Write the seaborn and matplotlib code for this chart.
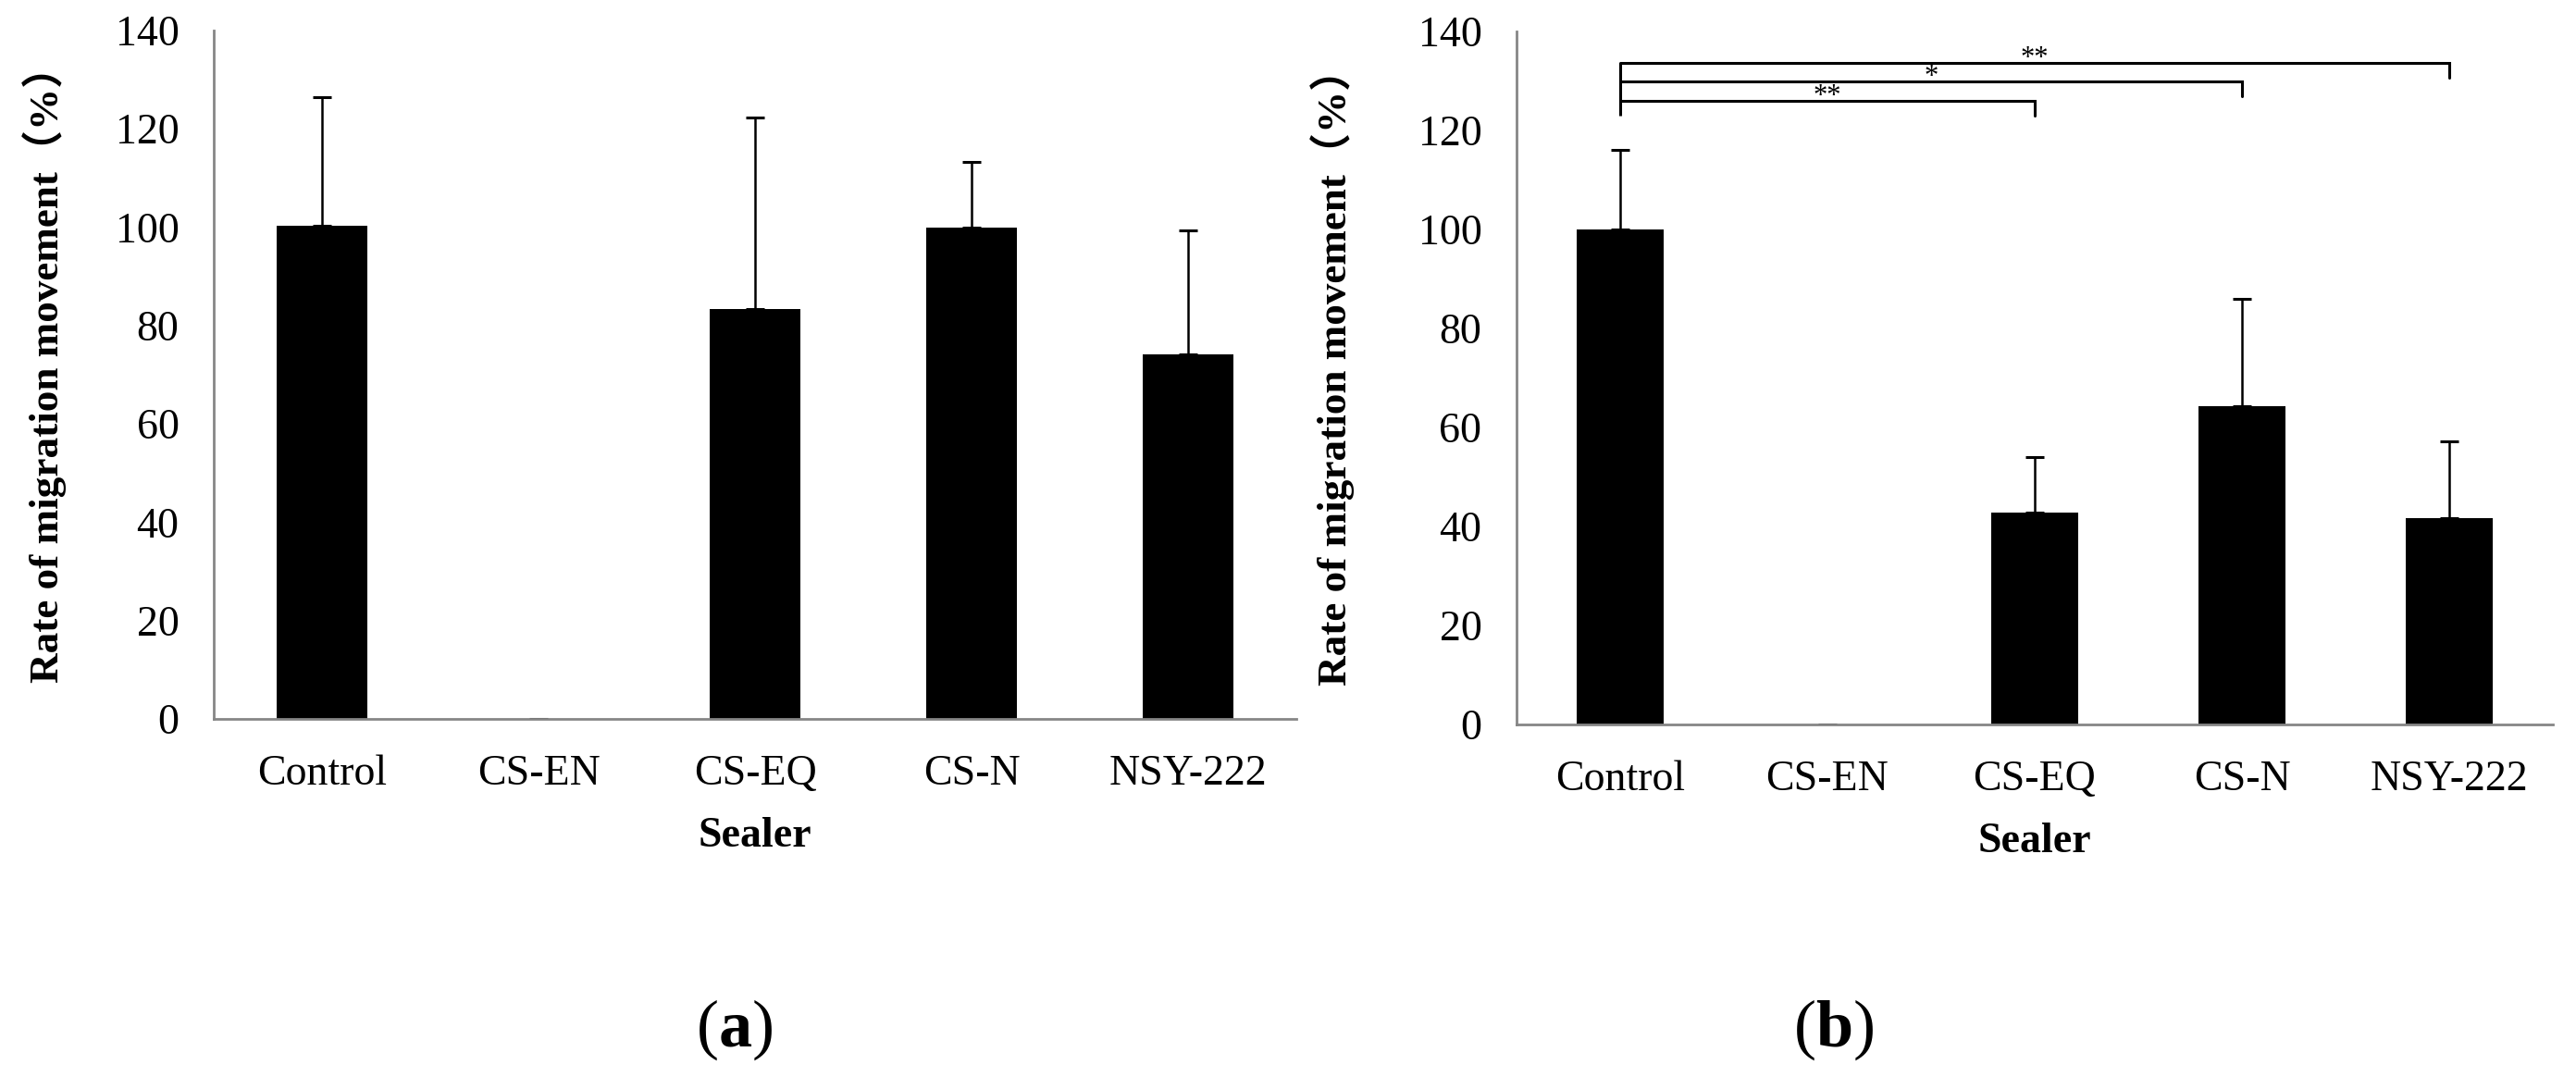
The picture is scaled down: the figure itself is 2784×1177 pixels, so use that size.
import matplotlib
matplotlib.use("Agg")
import matplotlib.pyplot as plt
import numpy as np
import pandas as pd
import seaborn as sns
from matplotlib.ticker import FixedLocator, MultipleLocator

sealers = ["Control", "CS-EN", "CS-EQ", "CS-N", "NSY-222"]

# panel (a)
rate_a = [100.2, 0.0, 83.3, 100.0, 74.2]
sd_a = [26.2, np.nan, 39.0, 13.3, 25.1]

# panel (b)
rate_b = [100.0, 0.0, 42.8, 64.2, 41.7]
sd_b = [16.0, np.nan, 11.2, 21.8, 15.4]

# significance brackets in panel (b): target group, bracket height, label
sig_targets = ["NSY-222", "CS-N", "CS-EQ"]
sig_heights = [133.7, 129.9, 126.0]
sig_labels = ["**", "*", "**"]

YLABEL = "Rate of migration movement\uff08%\uff09"
GREY = "#868686"


def draw_panel(ax, values, errs):
    df = pd.DataFrame({"sealer": sealers, "rate": values})
    sns.barplot(data=df, x="sealer", y="rate", order=sealers, color="black",
                errorbar=None, width=0.42, linewidth=0, saturation=1, ax=ax)
    err = np.asarray(errs, dtype=float)
    ax.errorbar(np.arange(len(sealers)), values, yerr=[np.zeros_like(err), err],
                fmt="none", ecolor="black", elinewidth=1.8, capsize=7, capthick=2.2)
    ax.set_xlim(-0.5, len(sealers) - 0.5)
    ax.set_ylim(0, 140)
    ax.yaxis.set_major_locator(MultipleLocator(20))
    ax.xaxis.set_minor_locator(FixedLocator(np.arange(len(sealers)) + 0.5))
    for side in ["top", "right"]:
        ax.spines[side].set_visible(False)
    for side in ["left", "bottom"]:
        ax.spines[side].set_color(GREY)
        ax.spines[side].set_linewidth(2.0)
    ax.tick_params(axis="y", direction="in", length=9.5, width=2.0, color=GREY,
                   labelcolor="black", labelsize=33, pad=27)
    ax.tick_params(axis="x", which="major", length=0, labelcolor="black",
                   labelsize=33, pad=28)
    ax.tick_params(axis="x", which="minor", direction="in", length=9.5, width=2.0,
                   color=GREY)
    ax.set_xlabel("Sealer", fontsize=33, fontweight="bold", color="black", labelpad=18)
    ax.set_ylabel(YLABEL, fontsize=32.5, fontweight="bold", color="black",
                  family=["Liberation Serif", "Noto Sans CJK JP"])
    ax.grid(False)


sns.set_theme(style="white")
plt.rcParams["font.family"] = ["Liberation Serif", "Noto Sans CJK JP"]
plt.rcParams["text.color"] = "black"
plt.rcParams["axes.labelcolor"] = "black"
plt.rcParams["mathtext.fontset"] = "custom"
plt.rcParams["mathtext.rm"] = "Liberation Serif"
plt.rcParams["mathtext.bf"] = "Liberation Serif:bold"

fig = plt.figure(figsize=(27.84, 11.77), dpi=100)
ax_a = fig.add_axes([0.0830, 0.3399, 0.4203, 0.6321])
ax_b = fig.add_axes([0.5887, 0.3348, 0.4023, 0.6364])

draw_panel(ax_a, rate_a, sd_a)
draw_panel(ax_b, rate_b, sd_b)
ax_a.yaxis.set_label_coords(-0.136, 0.515)
ax_b.yaxis.set_label_coords(-0.156, 0.515)

# significance brackets
x0 = sealers.index("Control")
ax_b.plot([x0, x0], [min(sig_heights) - 3.1, max(sig_heights)], color="black", lw=2.2,
          solid_capstyle="butt")
for target, h, lab in zip(sig_targets, sig_heights, sig_labels):
    x1 = sealers.index(target)
    ax_b.plot([x0, x1, x1], [h, h, h - 3.0], color="black", lw=2.2,
              solid_joinstyle="miter")
    ax_b.text((x0 + x1) / 2, h - 0.6, lab, ha="center", va="baseline", fontsize=22,
              color="black")

fig.text(794 / 2784, 1 - 1113 / 1177, r"($\mathbf{a}$)", ha="center", va="center",
         fontsize=52, color="black")
fig.text(1982 / 2784, 1 - 1113 / 1177, r"($\mathbf{b}$)", ha="center", va="center",
         fontsize=52, color="black")

fig.savefig("out.png", dpi=100, facecolor="white")
plt.close(fig)
